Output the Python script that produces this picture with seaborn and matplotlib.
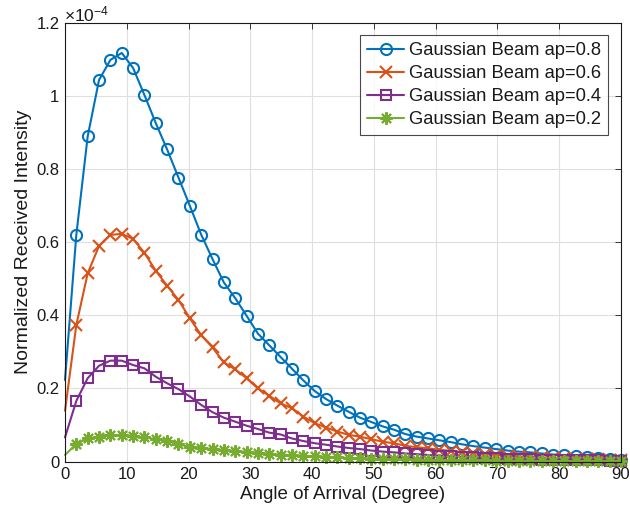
import numpy as np
import pandas as pd
import seaborn as sns
import matplotlib
matplotlib.use("Agg")
import matplotlib.pyplot as plt
from matplotlib.lines import Line2D
from matplotlib.ticker import FuncFormatter, MultipleLocator

# Angle of arrival samples (degrees), 50 points across 0..90
angle_deg = np.linspace(0, 90, 50)

# Normalized received intensity, in units of 1e-4
ap_08 = [0.223, 0.621, 0.890, 1.044, 1.099, 1.118, 1.077, 1.003, 0.926, 0.854,
         0.777, 0.700, 0.621, 0.554, 0.490, 0.447, 0.399, 0.350, 0.318, 0.286,
         0.254, 0.222, 0.193, 0.171, 0.153, 0.136, 0.120, 0.108, 0.096, 0.087,
         0.075, 0.068, 0.063, 0.058, 0.053, 0.047, 0.042, 0.038, 0.034, 0.030,
         0.027, 0.025, 0.022, 0.019, 0.017, 0.014, 0.012, 0.010, 0.008, 0.005]
ap_06 = [0.139, 0.374, 0.515, 0.590, 0.620, 0.623, 0.609, 0.571, 0.522, 0.481,
         0.442, 0.392, 0.346, 0.312, 0.271, 0.252, 0.228, 0.200, 0.180, 0.159,
         0.146, 0.123, 0.105, 0.093, 0.082, 0.073, 0.068, 0.061, 0.054, 0.050,
         0.043, 0.039, 0.036, 0.032, 0.029, 0.026, 0.023, 0.020, 0.018, 0.016,
         0.014, 0.012, 0.011, 0.010, 0.009, 0.008, 0.007, 0.006, 0.005, 0.004]
ap_04 = [0.066, 0.166, 0.228, 0.262, 0.276, 0.276, 0.264, 0.255, 0.232, 0.214,
         0.198, 0.178, 0.155, 0.135, 0.120, 0.109, 0.098, 0.089, 0.079, 0.074,
         0.063, 0.056, 0.050, 0.046, 0.041, 0.037, 0.034, 0.030, 0.027, 0.025,
         0.022, 0.020, 0.018, 0.016, 0.014, 0.013, 0.011, 0.010, 0.009, 0.008,
         0.007, 0.006, 0.005, 0.005, 0.004, 0.004, 0.003, 0.003, 0.002, 0.002]
ap_02 = [0.018, 0.048, 0.063, 0.068, 0.072, 0.073, 0.069, 0.066, 0.061, 0.057,
         0.047, 0.040, 0.038, 0.034, 0.031, 0.029, 0.026, 0.024, 0.021, 0.019,
         0.017, 0.015, 0.014, 0.013, 0.011, 0.010, 0.009, 0.008, 0.007, 0.007,
         0.006, 0.005, 0.005, 0.004, 0.004, 0.003, 0.003, 0.003, 0.002, 0.002,
         0.002, 0.002, 0.001, 0.001, 0.001, 0.001, 0.001, 0.001, 0.001, 0.001]

labels = ["Gaussian Beam ap=0.8", "Gaussian Beam ap=0.6",
          "Gaussian Beam ap=0.4", "Gaussian Beam ap=0.2"]
series = [ap_08, ap_06, ap_04, ap_02]
scale = 1e-4

colors = ["#0072BD", "#D95319", "#7E2F8E", "#77AC30"]
markers = ["o", "x", "s", (8, 2, 0)]
msizes = [8, 8.5, 7.5, 9]
hollow = [True, False, True, False]

sns.set_style("white")
plt.rcParams["font.family"] = ["Liberation Sans", "DejaVu Sans"]
plt.rcParams["mathtext.fontset"] = "custom"
plt.rcParams["mathtext.rm"] = "Liberation Sans"
plt.rcParams["mathtext.it"] = "Liberation Sans:italic"

ink = "#1a1a1a"

fig = plt.figure(figsize=(6.3, 5.16), dpi=100)
ax = fig.add_axes([65 / 630, 1 - 461.5 / 516, (621 - 65) / 630, (461.5 - 23) / 516])

handles = []
for vals, lab, c, m, ms, h in zip(series, labels, colors, markers, msizes, hollow):
    df = pd.DataFrame({"angle": angle_deg, "intensity": np.array(vals) * scale})
    style = dict(color=c, lw=1.5, marker=m, markersize=ms, markeredgewidth=1.5,
                 markerfacecolor="none" if h else c, markeredgecolor=c)
    sns.lineplot(data=df, x="angle", y="intensity", ax=ax, markevery=slice(1, None),
                 errorbar=None, sort=False, clip_on=False, legend=False, **style)
    handles.append(Line2D([], [], label=lab, **style))

ax.set_xlim(0, 90)
ax.set_ylim(0, 1.2e-4)
ax.xaxis.set_major_locator(MultipleLocator(10))
ax.yaxis.set_major_locator(MultipleLocator(0.2e-4))
ax.yaxis.set_major_formatter(
    FuncFormatter(lambda v, p: f"{v / scale:.10g}" if abs(v) > 1e-12 else "0"))
ax.set_xlabel("Angle of Arrival (Degree)", fontsize=13.5, color=ink, labelpad=3)
ax.set_ylabel("Normalized Received Intensity", fontsize=14, color=ink, labelpad=3)
ax.tick_params(direction="in", top=True, right=True, length=4, width=0.6,
               labelsize=12, colors=ink, pad=4)
ax.grid(True, color="#DFDFDF", lw=0.8)
ax.set_axisbelow(True)
for sp in ax.spines.values():
    sp.set_color(ink)
    sp.set_linewidth(0.8)

fig.text(64 / 630, 1 - 14 / 516, r"$\times10^{-4}$", fontsize=12.5, color=ink,
         ha="left", va="center")

leg = ax.legend(handles=handles, loc="upper right",
                bbox_to_anchor=(1 - 13 / 556, 1 - 12 / 438.5),
                fontsize=13.2, frameon=True, fancybox=False, handlelength=2.0,
                handletextpad=0.25, borderpad=0.4, labelspacing=0.32,
                borderaxespad=0)
leg.get_frame().set_edgecolor(ink)
leg.get_frame().set_linewidth(0.8)
for t in leg.get_texts():
    t.set_color(ink)

fig.savefig("out.png", dpi=100)
